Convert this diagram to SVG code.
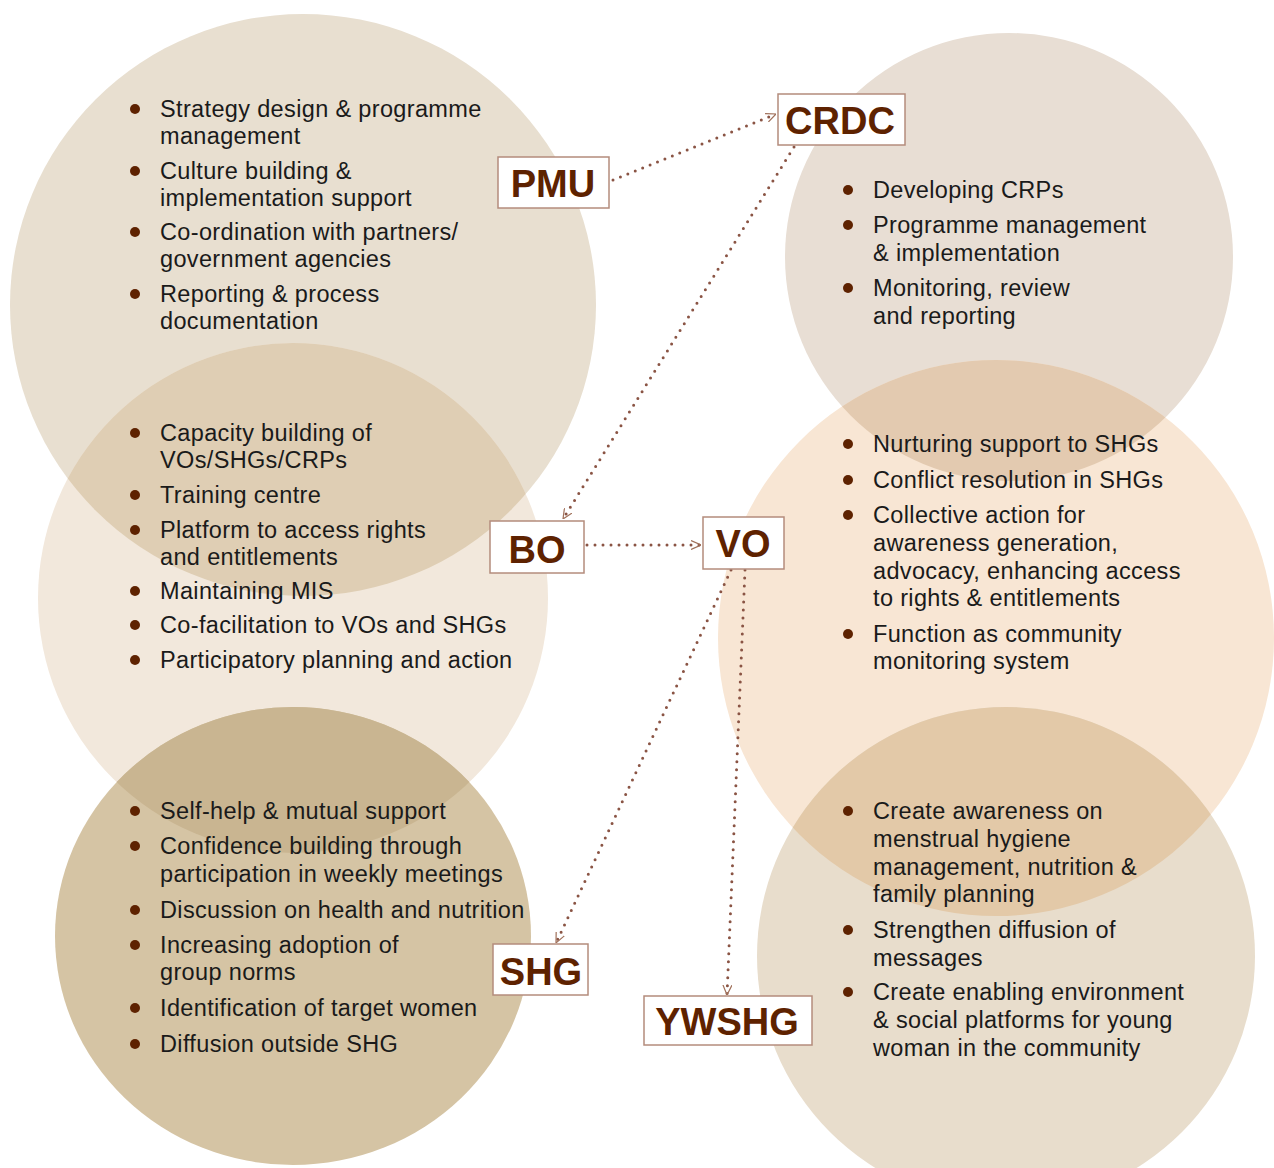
<svg xmlns="http://www.w3.org/2000/svg" width="1274" height="1168" viewBox="0 0 1274 1168">
<style>
.t{font-family:"Liberation Sans",Arial,sans-serif;font-size:23.5px;letter-spacing:0.35px;fill:#1a1a1a}
.lbl{font-family:"Liberation Sans",Arial,sans-serif;font-size:38px;font-weight:bold;fill:#5e2200;text-anchor:middle}
.box{fill:#fff;stroke:#b48c7c;stroke-width:1.5}
.dot{fill:#5e2200}
.conn{fill:none;stroke:#8a5444;stroke-width:3;stroke-linecap:round;stroke-dasharray:0 8}
</style>
<defs>
<marker id="ah" viewBox="0 0 10 10" refX="10" refY="5" markerWidth="10" markerHeight="10" markerUnits="userSpaceOnUse" orient="auto">
<path d="M0,0.5 L10,5 L0,9.5" fill="none" stroke="#a0705a" stroke-width="1.2" stroke-dasharray="none"/>
</marker>
<clipPath id="cPMU"><ellipse cx="303" cy="305" rx="293" ry="291"/></clipPath>
<clipPath id="cBO"><ellipse cx="293" cy="598" rx="255" ry="255"/></clipPath>
<clipPath id="cCRDC"><circle cx="1009" cy="257" r="224"/></clipPath>
<clipPath id="cVO"><circle cx="996" cy="638" r="278"/></clipPath>
</defs>
<rect width="1274" height="1168" fill="#fff"/>
<g id="circles">
<ellipse cx="303" cy="305" rx="293" ry="291" fill="#e8dfd0"/>
<ellipse cx="293" cy="598" rx="255" ry="255" fill="#f2e8dc"/>
<ellipse cx="293" cy="598" rx="255" ry="255" fill="#dfceb4" clip-path="url(#cPMU)"/>
<ellipse cx="293" cy="936" rx="238" ry="229" fill="#d5c4a4"/>
<ellipse cx="293" cy="936" rx="238" ry="229" fill="#c9b591" clip-path="url(#cBO)"/>
<circle cx="1009" cy="257" r="224" fill="#e8ded4"/>
<circle cx="996" cy="638" r="278" fill="#f8e6d4"/>
<circle cx="996" cy="638" r="278" fill="#e3cab0" clip-path="url(#cCRDC)"/>
<circle cx="1006" cy="956" r="249" fill="#e8ddcc"/>
<circle cx="1006" cy="956" r="249" fill="#e3c9a8" clip-path="url(#cVO)"/>
</g>
<g id="connectors">
<path class="conn" d="M613,180 L776,114" marker-end="url(#ah)"/>
<path class="conn" d="M794,147 L563,519" marker-end="url(#ah)"/>
<path class="conn" d="M587,545 L701,545" marker-end="url(#ah)"/>
<path class="conn" d="M731,570 L556,943" marker-end="url(#ah)"/>
<path class="conn" d="M745,570 L727,995" marker-end="url(#ah)"/>
</g>
<g id="PMU">
<rect class="box" x="498" y="157" width="111" height="51"/>
<text class="lbl" x="553" y="197">PMU</text>
<circle class="dot" cx="135" cy="109" r="5"/><circle class="dot" cx="135" cy="171" r="5"/><circle class="dot" cx="135" cy="232" r="5"/><circle class="dot" cx="135" cy="294" r="5"/>
<text class="t" x="160" y="117">Strategy design &amp; programme</text>
<text class="t" x="160" y="144">management</text>
<text class="t" x="160" y="179">Culture building &amp;</text>
<text class="t" x="160" y="206">implementation support</text>
<text class="t" x="160" y="240">Co-ordination with partners/</text>
<text class="t" x="160" y="267">government agencies</text>
<text class="t" x="160" y="302">Reporting &amp; process</text>
<text class="t" x="160" y="329">documentation</text>
</g>
<g id="BO">
<rect class="box" x="490" y="521" width="94" height="52"/>
<text class="lbl" x="537" y="563">BO</text>
<circle class="dot" cx="135" cy="433" r="5"/><circle class="dot" cx="135" cy="495" r="5"/><circle class="dot" cx="135" cy="530" r="5"/><circle class="dot" cx="135" cy="591" r="5"/><circle class="dot" cx="135" cy="625" r="5"/><circle class="dot" cx="135" cy="660" r="5"/>
<text class="t" x="160" y="441">Capacity building of</text>
<text class="t" x="160" y="468">VOs/SHGs/CRPs</text>
<text class="t" x="160" y="503">Training centre</text>
<text class="t" x="160" y="538">Platform to access rights</text>
<text class="t" x="160" y="565">and entitlements</text>
<text class="t" x="160" y="599">Maintaining MIS</text>
<text class="t" x="160" y="633">Co-facilitation to VOs and SHGs</text>
<text class="t" x="160" y="668">Participatory planning and action</text>
</g>
<g id="SHG">
<rect class="box" x="493" y="944" width="95" height="51"/>
<text class="lbl" x="541" y="985">SHG</text>
<circle class="dot" cx="135" cy="811" r="5"/><circle class="dot" cx="135" cy="846" r="5"/><circle class="dot" cx="135" cy="910" r="5"/><circle class="dot" cx="135" cy="945" r="5"/><circle class="dot" cx="135" cy="1008" r="5"/><circle class="dot" cx="135" cy="1044" r="5"/>
<text class="t" x="160" y="819">Self-help &amp; mutual support</text>
<text class="t" x="160" y="854">Confidence building through</text>
<text class="t" x="160" y="882">participation in weekly meetings</text>
<text class="t" x="160" y="918">Discussion on health and nutrition</text>
<text class="t" x="160" y="953">Increasing adoption of</text>
<text class="t" x="160" y="980">group norms</text>
<text class="t" x="160" y="1016">Identification of target women</text>
<text class="t" x="160" y="1052">Diffusion outside SHG</text>
</g>
<g id="CRDC">
<rect class="box" x="778" y="94" width="127" height="51"/>
<text class="lbl" x="840" y="134">CRDC</text>
<circle class="dot" cx="848" cy="190" r="5"/><circle class="dot" cx="848" cy="225" r="5"/><circle class="dot" cx="848" cy="288" r="5"/>
<text class="t" x="873" y="198">Developing CRPs</text>
<text class="t" x="873" y="233">Programme management</text>
<text class="t" x="873" y="261">&amp; implementation</text>
<text class="t" x="873" y="296">Monitoring, review</text>
<text class="t" x="873" y="324">and reporting</text>
</g>
<g id="VO">
<rect class="box" x="703" y="517" width="81" height="52"/>
<text class="lbl" x="743" y="557">VO</text>
<circle class="dot" cx="848" cy="444" r="5"/><circle class="dot" cx="848" cy="480" r="5"/><circle class="dot" cx="848" cy="515" r="5"/><circle class="dot" cx="848" cy="634" r="5"/>
<text class="t" x="873" y="452">Nurturing support to SHGs</text>
<text class="t" x="873" y="488">Conflict resolution in SHGs</text>
<text class="t" x="873" y="523">Collective action for</text>
<text class="t" x="873" y="551">awareness generation,</text>
<text class="t" x="873" y="579">advocacy, enhancing access</text>
<text class="t" x="873" y="606">to rights &amp; entitlements</text>
<text class="t" x="873" y="642">Function as community</text>
<text class="t" x="873" y="669">monitoring system</text>
</g>
<g id="YWSHG">
<rect class="box" x="644" y="996" width="168" height="49"/>
<text class="lbl" x="727" y="1035">YWSHG</text>
<circle class="dot" cx="848" cy="811" r="5"/><circle class="dot" cx="848" cy="930" r="5"/><circle class="dot" cx="848" cy="992" r="5"/>
<text class="t" x="873" y="819">Create awareness on</text>
<text class="t" x="873" y="847">menstrual hygiene</text>
<text class="t" x="873" y="875">management, nutrition &amp;</text>
<text class="t" x="873" y="902">family planning</text>
<text class="t" x="873" y="938">Strengthen diffusion of</text>
<text class="t" x="873" y="966">messages</text>
<text class="t" x="873" y="1000">Create enabling environment</text>
<text class="t" x="873" y="1028">&amp; social platforms for young</text>
<text class="t" x="873" y="1056">woman in the community</text>
</g>
</svg>
